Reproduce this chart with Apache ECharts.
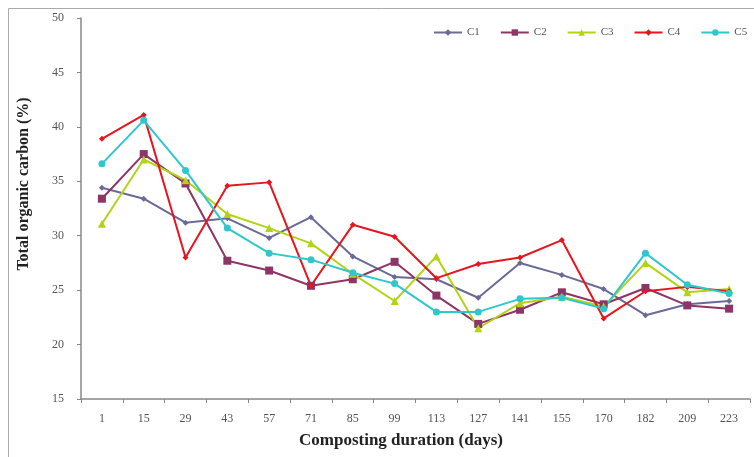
<!DOCTYPE html>
<html><head><meta charset="utf-8">
<script src="https://cdn.jsdelivr.net/npm/echarts@6/dist/echarts.min.js"></script>
<style>html,body{margin:0;padding:0;background:#fff}#c{width:754px;height:457px}</style>
</head><body><div id="c"></div>
<script>
const days = ['1','15','29','43','57','71','85','99','113','127','141','155','170','182','209','223'];
const C1 = [34.4,33.4,31.2,31.6,29.8,31.7,28.1,26.2,26.0,24.3,27.5,26.4,25.1,22.7,23.7,24.0];
const C2 = [33.4,37.5,34.8,27.7,26.8,25.4,26.0,27.6,24.5,21.9,23.2,24.8,23.7,25.2,23.6,23.3];
const C3 = [31.1,37.0,35.1,32.0,30.7,29.3,26.5,24.0,28.1,21.5,23.8,24.4,23.5,27.5,24.8,25.1];
const C4 = [38.9,41.1,28.0,34.6,34.9,25.4,31.0,29.9,26.1,27.4,28.0,29.6,22.4,24.9,25.3,24.9];
const C5 = [36.6,40.6,36.0,30.7,28.4,27.8,26.6,25.6,23.0,23.0,24.2,24.3,23.3,28.4,25.5,24.7];
const yTicks = {min:15, max:50, interval:5};
const xTitle = 'Composting duration (days)';
const yTitle = 'Total organic carbon (%)';

const font = 'Liberation Serif';
function mk(name, data, color, symbol, size){
  return {name, type:'line', data, symbol, symbolSize:size,
    lineStyle:{color, width:2}, itemStyle:{color}, color};
}
const chart = echarts.init(document.getElementById('c'), null, {renderer:'canvas'});
chart.setOption({
  animation:false,
  backgroundColor:'#fff',
  graphic:[
    {type:'rect', shape:{x:8.5,y:8.5,width:760,height:470}, style:{fill:'none', stroke:'#aaa', lineWidth:1}},
    {type:'text', x:24, y:184, rotation:Math.PI/2,
      style:{text:yTitle, font:'bold 16px "Liberation Serif"', fill:'#222', textAlign:'center', textVerticalAlign:'middle'}},
    {type:'text', x:401, y:441,
      style:{text:xTitle, font:'bold 17px "Liberation Serif"', fill:'#222', textAlign:'center', textVerticalAlign:'middle'}}
  ],
  grid:{left:81, top:18, right:4, bottom:58, containLabel:false},
  legend:{left:428, top:22, itemWidth:28, itemHeight:8, itemGap:20,
    textStyle:{fontFamily:font, fontSize:11, color:'#555'},
    data:['C1','C2','C3','C4','C5']},
  xAxis:{type:'category', data:days, boundaryGap:true,
    axisLine:{lineStyle:{color:'#888', width:1.5}},
    axisTick:{show:true, length:4, lineStyle:{color:'#888'}},
    axisLabel:{fontFamily:font, fontSize:12, color:'#555', margin:14},
    splitLine:{show:false}},
  yAxis:{type:'value', min:yTicks.min, max:yTicks.max, interval:yTicks.interval,
    axisLine:{show:true, lineStyle:{color:'#888', width:1.5}},
    axisTick:{show:true, length:4, lineStyle:{color:'#888'}},
    axisLabel:{fontFamily:font, fontSize:12, color:'#555', margin:17},
    splitLine:{show:false}},
  series:[
    mk('C1', C1, '#6a6a98', 'diamond', 6),
    mk('C2', C2, '#8c3566', 'rect', 8),
    mk('C3', C3, '#b2d414', 'triangle', 8),
    mk('C4', C4, '#e8141e', 'diamond', 6),
    mk('C5', C5, '#2ec8cc', 'circle', 7)
  ]
});
</script></body></html>
